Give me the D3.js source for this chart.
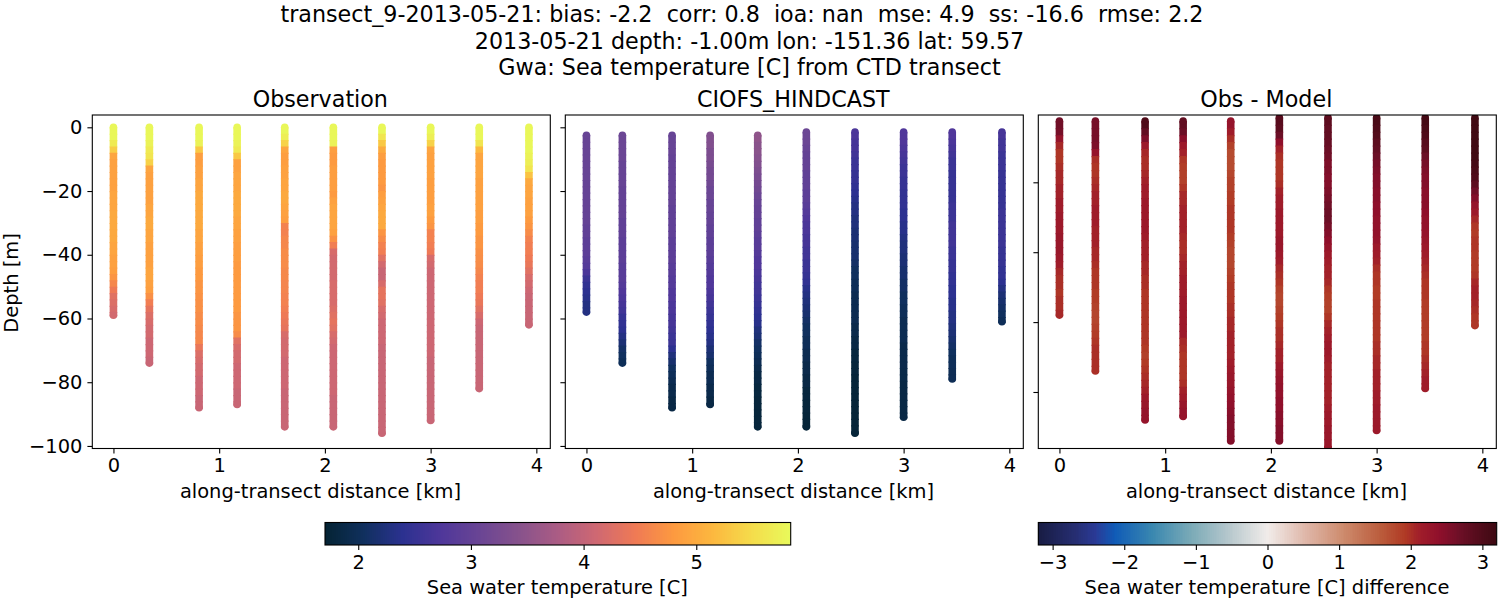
<!DOCTYPE html>
<html><head><meta charset="utf-8">
<script src="https://cdn.jsdelivr.net/npm/d3@7"></script>
<style>html,body{margin:0;background:#fff}svg{display:block}text{font-family:"DejaVu Sans";fill:#000}</style>
</head><body><svg id="c" width="1500" height="600"></svg>
<script>
const titleLines=["transect_9-2013-05-21: bias: -2.2  corr: 0.8  ioa: nan  mse: 4.9  ss: -16.6  rmse: 2.2","2013-05-21 depth: -1.00m lon: -151.36 lat: 59.57","Gwa: Sea temperature [C] from CTD transect"];
const panelTitles=["Observation","CIOFS_HINDCAST","Obs - Model"];
const xLabel="along-transect distance [km]", yLabel="Depth [m]";
const cbLabels=["Sea water temperature [C]","Sea water temperature [C] difference"];
const xTicks=[0,1,2,3,4], yTicks=[0,-20,-40,-60,-80,-100], yTicksDiff=[-20,-40,-60,-80];
const stationKm=[0,0.34,0.81,1.17,1.62,2.08,2.54,3.0,3.46,3.93];
const obsBottom=[-59,-74,-88,-87,-94,-94,-96,-92,-82,-62];
const modelBottom=[-58,-74,-88,-87,-94,-94,-96,-91,-79,-61];
const modelTop=[-2.5,-2.5,-2.5,-2.5,-2.5,-1.5,-1.5,-1.5,-1.5,-1.5];
const obsT=[
[5.8,5.8,5.65,5.35,4.93,4.88,4.88,4.88,4.88,4.88,4.93,4.93,4.93,4.98,4.98,4.98,4.98,4.98,4.93,4.93,4.88,4.88,4.85,4.75,4.6,4.45,4.3,4.25,4.2,4.15],
[5.8,5.8,5.75,5.65,5.6,5.4,4.93,4.88,4.88,4.88,4.88,4.88,4.93,4.93,4.98,4.98,4.93,4.93,4.88,4.88,4.88,4.88,4.93,4.93,4.88,4.85,4.7,4.5,4.35,4.25,4.2,4.15,4.15,4.1,4.1,4.1,4.05,4.05],
[5.8,5.8,5.75,5.3,4.85,4.85,4.88,4.88,4.93,4.93,4.98,4.98,4.98,4.98,4.98,4.98,4.93,4.93,4.88,4.88,4.85,4.85,4.8,4.8,4.75,4.75,4.72,4.7,4.7,4.65,4.65,4.62,4.6,4.6,4.4,4.25,4.2,4.15,4.15,4.1,4.1,4.1,4.05,4.05,4.05],
[5.8,5.8,5.75,5.65,5.3,4.88,4.88,4.93,4.93,4.93,4.98,4.98,4.98,4.98,4.93,4.93,4.88,4.88,4.85,4.85,4.85,4.8,4.8,4.8,4.8,4.8,4.8,4.8,4.8,4.75,4.75,4.75,4.65,4.3,4.2,4.15,4.15,4.1,4.1,4.1,4.1,4.05,4.05,4.05],
[5.8,5.7,5.4,4.93,4.85,4.85,4.88,4.88,4.93,4.93,4.98,4.98,4.93,4.88,4.85,4.55,4.55,4.6,4.6,4.65,4.65,4.65,4.62,4.62,4.58,4.58,4.55,4.55,4.5,4.45,4.4,4.35,4.2,4.15,4.15,4.15,4.1,4.1,4.1,4.1,4.1,4.05,4.05,4.05,4.05,4.05,4.05,4.05],
[5.8,5.8,5.75,4.85,4.8,4.8,4.85,4.85,4.85,4.85,4.8,4.88,4.93,4.93,4.93,4.93,4.88,4.72,4.5,4.2,4.15,4.15,4.15,4.15,4.2,4.2,4.2,4.2,4.25,4.3,4.35,4.3,4.2,4.15,4.1,4.1,4.1,4.1,4.1,4.1,4.1,4.1,4.05,4.05,4.05,4.05,4.05,4.05],
[5.8,5.6,5.3,5,4.85,4.8,4.8,4.8,4.8,4.75,4.85,4.88,4.93,4.98,4.98,4.98,4.75,4.65,4.55,4.5,4.3,4.15,4.05,4.05,4.2,4.35,4.35,4.3,4.2,4.15,4.1,4.1,4.1,4.1,4.05,4.05,4.05,4.05,4.05,4.05,4.05,4.05,4.05,4.05,4.05,4.05,4.05,4.05,4.05],
[5.8,5.7,5.4,4.93,4.88,4.88,4.88,4.88,4.85,4.85,4.85,4.85,4.88,4.88,4.8,4.75,4.55,4.55,4.5,4.45,4.2,4.15,4.1,4.1,4.1,4.1,4.1,4.1,4.1,4.1,4.1,4.1,4.1,4.1,4.1,4.1,4.05,4.05,4.05,4.05,4.05,4.05,4.05,4.05,4.05,4.05,4.05],
[5.8,5.8,5.6,5.15,4.93,4.93,4.93,4.93,4.88,4.88,4.88,4.88,4.88,4.85,4.85,4.8,4.8,4.75,4.75,4.7,4.68,4.65,4.6,4.55,4.5,4.5,4.45,4.4,4.3,4.2,4.1,4.05,4.05,4.05,4.05,4.05,4.05,4.05,4.05,4.05,4.05,4.05],
[5.8,5.8,5.8,5.8,5.75,5.7,5.6,5.25,4.98,4.93,4.93,4.88,4.88,4.88,4.8,4.75,4.65,4.55,4.5,4.5,4.45,4.4,4.3,4.2,4.15,4.1,4.05,4.05,4.05,4.05,4.05,4.05]];
const modelT=[
[3.05,3.05,3.05,3.05,3.05,3.05,3.05,3,3,3,3,3,3,3,2.95,2.95,2.9,2.9,2.9,2.85,2.8,2.7,2.55,2.45,2.4,2.35,2.3,2.3],
[3.1,3.1,3.1,3.1,3.05,3.05,3.05,3.05,3,3,3,3,3,2.95,2.95,2.95,2.9,2.9,2.9,2.9,2.85,2.85,2.85,2.8,2.75,2.7,2.65,2.6,2.5,2.45,2.4,2.3,2.2,2.1,2.05,2],
[3.05,3.05,3.05,3,3,3,3,3,3,3,3,2.95,2.95,2.95,2.95,2.95,2.9,2.9,2.9,2.9,2.85,2.85,2.8,2.8,2.75,2.75,2.7,2.7,2.65,2.65,2.6,2.55,2.55,2.4,2.25,2.15,2.05,2,1.95,1.9,1.9,1.85,1.85],
[3.35,3.35,3.3,3.3,3.25,3.2,3.2,3.15,3.1,3.1,3.05,3.05,3,3,2.95,2.95,2.9,2.9,2.9,2.85,2.8,2.8,2.75,2.75,2.7,2.65,2.6,2.55,2.5,2.45,2.4,2.35,2.3,2.2,2.15,2.05,2,1.95,1.95,1.9,1.9,1.85,1.85],
[3.5,3.45,3.45,3.4,3.35,3.3,3.25,3.2,3.15,3.1,3.05,3,3,2.95,2.95,2.9,2.85,2.85,2.8,2.75,2.75,2.7,2.65,2.6,2.6,2.55,2.5,2.45,2.4,2.35,2.25,2.2,2.1,2.05,2,1.95,1.9,1.85,1.85,1.8,1.8,1.78,1.78,1.78,1.78,1.78],
[3.1,3.1,3.05,3,3,3,2.95,2.95,2.95,2.9,2.9,2.85,2.8,2.75,2.7,2.7,2.65,2.65,2.6,2.6,2.55,2.55,2.5,2.45,2.35,2.3,2.25,2.2,2.15,2.1,2.05,2.05,2,2,1.95,1.95,1.9,1.9,1.85,1.85,1.8,1.8,1.78,1.78,1.75,1.75,1.75],
[2.7,2.65,2.65,2.6,2.55,2.55,2.5,2.5,2.45,2.4,2.35,2.3,2.3,2.25,2.25,2.2,2.2,2.15,2.15,2.15,2.1,2.05,2.05,2,2,1.95,1.95,1.95,1.95,1.95,1.9,1.9,1.85,1.85,1.8,1.8,1.78,1.78,1.75,1.75,1.75,1.75,1.75,1.75,1.75,1.75,1.75,1.75],
[2.75,2.75,2.7,2.65,2.6,2.55,2.55,2.5,2.5,2.45,2.45,2.45,2.4,2.4,2.35,2.35,2.3,2.25,2.25,2.2,2.2,2.15,2.15,2.1,2.1,2.05,2.05,2,2,1.95,1.95,1.95,1.95,1.9,1.9,1.9,1.9,1.88,1.88,1.85,1.85,1.85,1.85,1.85,1.85],
[2.75,2.7,2.65,2.6,2.55,2.55,2.5,2.5,2.5,2.5,2.5,2.55,2.55,2.55,2.6,2.6,2.6,2.6,2.55,2.55,2.5,2.5,2.45,2.45,2.4,2.4,2.35,2.35,2.3,2.3,2.25,2.2,2.15,2.1,2.05,2,2,1.98,1.98],
[2.65,2.6,2.6,2.55,2.55,2.55,2.5,2.5,2.5,2.5,2.5,2.5,2.55,2.55,2.55,2.55,2.55,2.55,2.5,2.5,2.5,2.45,2.45,2.4,2.3,2.2,2.15,2.1,2.05,2]];
const diffT=[
[2.65,2.6,2.3,2.05,1.95,1.95,2,2.05,2.05,2.1,2.1,2.15,2.15,2.2,2.2,2.2,2.25,2.25,2.25,2.2,2.15,2.05,2,2,1.95,2,2,2.05],
[2.6,2.6,2.6,2.55,2.3,2,1.95,1.95,2,2.05,2.1,2.1,2.15,2.15,2.15,2.1,2.1,2.1,2.05,2.05,2,1.95,1.95,1.95,1.9,1.9,1.85,1.8,1.8,1.85,1.9,1.95,2,2,2,2],
[3,2.8,2.55,2.2,2.05,2,2,2.05,2.1,2.15,2.15,2.2,2.2,2.2,2.2,2.2,2.15,2.1,2.1,2.1,2.05,2.05,2,2,1.95,1.95,1.95,1.95,1.95,1.95,1.95,1.95,1.9,1.85,1.9,1.95,2,2.05,2.1,2.2,2.25,2.3,2.3],
[2.8,2.7,2.45,2.2,2.1,1.95,1.9,1.85,1.85,1.95,2.05,2.05,2.1,2.1,2.1,2.1,2.05,2,2,2.05,2.1,2.1,2.15,2.15,2.15,2.2,2.2,2.2,2.2,2.2,2.2,2.05,2,1.95,1.95,1.95,1.95,2,2.1,2.15,2.25,2.3,2.3],
[2.3,2.15,2,1.85,1.75,1.75,1.75,1.8,1.85,1.85,1.9,1.9,1.95,1.95,1.95,1.95,1.9,1.85,1.8,1.8,1.8,1.85,1.9,1.95,1.95,1.95,2,2,2.05,2.05,2.1,2.1,2.1,2.1,2.15,2.2,2.25,2.25,2.3,2.35,2.4,2.45,2.5,2.5,2.5,2.5],
[2.9,2.85,2.7,2.4,2.1,2,1.95,1.95,1.95,2,2.1,2.15,2.15,2.2,2.2,2.2,2.2,2.25,2.25,2.2,2.15,2.05,2,1.95,1.85,1.8,1.8,1.85,1.9,1.95,2,2,2.05,2.1,2.1,2.2,2.25,2.3,2.35,2.35,2.4,2.4,2.45,2.45,2.5,2.5,2.5],
[2.85,2.8,2.8,2.75,2.7,2.65,2.55,2.55,2.5,2.5,2.55,2.6,2.65,2.7,2.7,2.6,2.5,2.4,2.3,2.2,2.15,2.1,2.1,2.05,1.95,1.9,1.85,1.85,1.95,2.05,2.1,2.15,2.2,2.2,2.15,2.1,2.1,2.1,2.1,2.1,2.1,2.15,2.2,2.2,2.25,2.25,2.25,2.25],
[3.05,3,2.95,2.85,2.8,2.7,2.6,2.55,2.5,2.5,2.45,2.45,2.4,2.4,2.35,2.35,2.35,2.3,2.2,2.15,2.1,2,1.95,1.95,1.9,1.9,1.95,1.95,1.95,1.95,1.95,1.95,2,2,2.05,2.05,2.1,2.1,2.1,2.15,2.15,2.2,2.2,2.2,2.2],
[3.1,3.05,3,2.9,2.85,2.7,2.6,2.55,2.5,2.5,2.45,2.45,2.45,2.4,2.35,2.35,2.3,2.25,2.2,2.15,2.1,2.05,2,1.95,1.95,1.95,1.9,1.9,1.9,1.9,1.9,1.9,1.95,1.95,2,2.05,2.1,2.15,2.15],
[3.15,3.15,3.15,3.15,3.15,3.15,3.1,3.05,3,2.85,2.65,2.5,2.3,2.2,2.05,1.95,1.9,1.95,1.95,1.9,1.9,1.9,1.95,2.05,2.1,2.1,2.05,2,1.95,1.95]];
const thermalStops=["#042333","#10305e","#2b3190","#4f379a","#6a4594","#87528c","#ab5c84","#cf6872","#ef7a55","#fd9a40","#fcb83f","#f5dc4b","#e8fa5b"];
const balanceAt=[0,.083,.125,.167,.25,.333,.417,.5,.583,.667,.75,.8,.833,.875,.917,1];
const balanceStops=["#181c43","#262e73","#2a3a96","#0f5bb7","#3a88b0","#7aaab7","#b7c8cd","#f1ecea","#dfb7a9","#cd8a6c","#ba5a3a","#b03a25","#a01d2a","#8f0f2b","#6e0f27","#3c0911"];
const tempDomain=[1.705,5.838], diffDomain=[-3.2,3.2];
const tempTicks=[2,3,4,5], diffTicks=[-3,-2,-1,0,1,2,3];
const depthStep=2;

const svg=d3.select("#c");
const thermal=d3.scaleLinear().domain(d3.range(thermalStops.length).map(i=>i/(thermalStops.length-1))).range(thermalStops);
const balance=d3.scaleLinear().domain(balanceAt).range(balanceStops);
const tempColor=d3.scaleSequential(thermal).domain(tempDomain);
const diffColor=d3.scaleSequential(balance).domain(diffDomain);
const FS=19.44;

titleLines.forEach((t,i)=>svg.append("text").attr("x",[742,749.5,749.5][i]).attr("y",[22,49,75][i]).attr("text-anchor","middle").attr("font-size",22.22).style("white-space","pre").text(t));

const plotTop=115,plotBottom=448.5,W=458;
const panels=[
 {x0:92.3,title:panelTitles[0],vals:obsT,color:tempColor,bot:obsBottom,tops:obsBottom.map(()=>0),yd:[3.86,-100.8],yt:yTicks,lab:true},
 {x0:565.3,title:panelTitles[1],vals:modelT,color:tempColor,bot:modelBottom,tops:modelTop,yd:[3.86,-100.8],yt:yTicks},
 {x0:1038.3,title:panelTitles[2],vals:diffT,color:diffColor,bot:modelBottom,tops:modelTop,yd:[-0.74,-96.17],yt:yTicksDiff}];
function styleAxis(a){
 a.select(".domain").remove();
 a.selectAll("line").attr("stroke","#000").attr("stroke-width",1.1);
 a.selectAll("text").attr("font-size",FS).attr("font-family","DejaVu Sans").attr("fill","#000");
}
panels.forEach((p,pi)=>{
 const x=d3.scaleLinear().domain([-0.2,4.132]).range([p.x0,p.x0+W]);
 const y=d3.scaleLinear().domain(p.yd).range([plotTop,plotBottom]);
 const id="clip"+pi;
 svg.append("clipPath").attr("id",id).append("rect").attr("x",p.x0).attr("y",plotTop).attr("width",W).attr("height",plotBottom-plotTop);
 const g=svg.append("g").attr("clip-path",`url(#${id})`);
 stationKm.forEach((km,si)=>{
  const pts=p.vals[si].map((v,i)=>({d:p.tops[si]-depthStep*i,v})).filter(d=>d.d>p.bot[si]);
  pts.push({d:p.bot[si],v:pts[pts.length-1].v});
  g.selectAll(null).data(pts.slice(0,-1)).join("line")
   .attr("x1",x(km)).attr("x2",x(km)).attr("y1",d=>y(d.d)).attr("y2",(d,i)=>y(pts[i+1].d)+1.2)
   .attr("stroke",d=>p.color(d.v)).attr("stroke-width",7.6);
  g.selectAll(null).data([pts[0],pts[pts.length-1]]).join("circle")
   .attr("cx",x(km)).attr("cy",d=>y(d.d)).attr("r",3.8).attr("fill",d=>p.color(d.v));
 });
 const ax=svg.append("g").attr("transform",`translate(0,${plotBottom})`).call(d3.axisBottom(x).tickValues(xTicks).tickFormat(d3.format("d")).tickSize(4.9).tickPadding(5));
 styleAxis(ax);
 const ay=svg.append("g").attr("transform",`translate(${p.x0},0)`).call(d3.axisLeft(y).tickValues(p.yt).tickFormat(p.lab?(d=>String(d).replace("-","\u2212")):"").tickSize(4.9).tickPadding(5));
 styleAxis(ay);
 svg.append("rect").attr("x",p.x0).attr("y",plotTop).attr("width",W).attr("height",plotBottom-plotTop).attr("fill","none").attr("stroke","#000").attr("stroke-width",1.1);
 svg.append("text").attr("x",p.x0+W/2-1).attr("y",107).attr("text-anchor","middle").attr("font-size",22.22).text(p.title);
 svg.append("text").attr("x",p.x0+W/2-0.8).attr("y",498).attr("text-anchor","middle").attr("font-size",FS).text(xLabel);
});
svg.append("text").attr("transform","translate(18,283) rotate(-90)").attr("text-anchor","middle").attr("font-size",FS).text(yLabel);

function colorbar(x0,x1,dom,color,ticks,label){
 const cy0=522.5,cy1=545;
 const s=d3.scaleLinear().domain(dom).range([x0,x1]);
 const g=svg.append("g").attr("shape-rendering","crispEdges");
 const n=256,cells=d3.range(n).map(i=>dom[0]+(dom[1]-dom[0])*(i+.5)/n);
 g.selectAll("rect").data(cells).join("rect").attr("x",d=>s(d)-(x1-x0)/n/2).attr("width",(x1-x0)/n+1).attr("y",cy0).attr("height",cy1-cy0).attr("fill",d=>color(d));
 svg.append("rect").attr("x",x1).attr("y",cy0-1).attr("width",3).attr("height",cy1-cy0+2).attr("fill","#fff");
 svg.append("rect").attr("x",x0).attr("y",cy0).attr("width",x1-x0).attr("height",cy1-cy0).attr("fill","none").attr("stroke","#000").attr("stroke-width",1.1);
 const ax=svg.append("g").attr("transform",`translate(0,${cy1})`).call(d3.axisBottom(s).tickValues(ticks).tickFormat(d=>String(d).replace("-","\u2212")).tickSize(4.9).tickPadding(5));
 styleAxis(ax);
 svg.append("text").attr("x",(x0+x1)/2-0.5).attr("y",594).attr("text-anchor","middle").attr("font-size",FS).text(label);
}
colorbar(325,790.7,tempDomain,tempColor,tempTicks,cbLabels[0]);
colorbar(1038.3,1496.7,diffDomain,diffColor,diffTicks,cbLabels[1]);
</script></body></html>
